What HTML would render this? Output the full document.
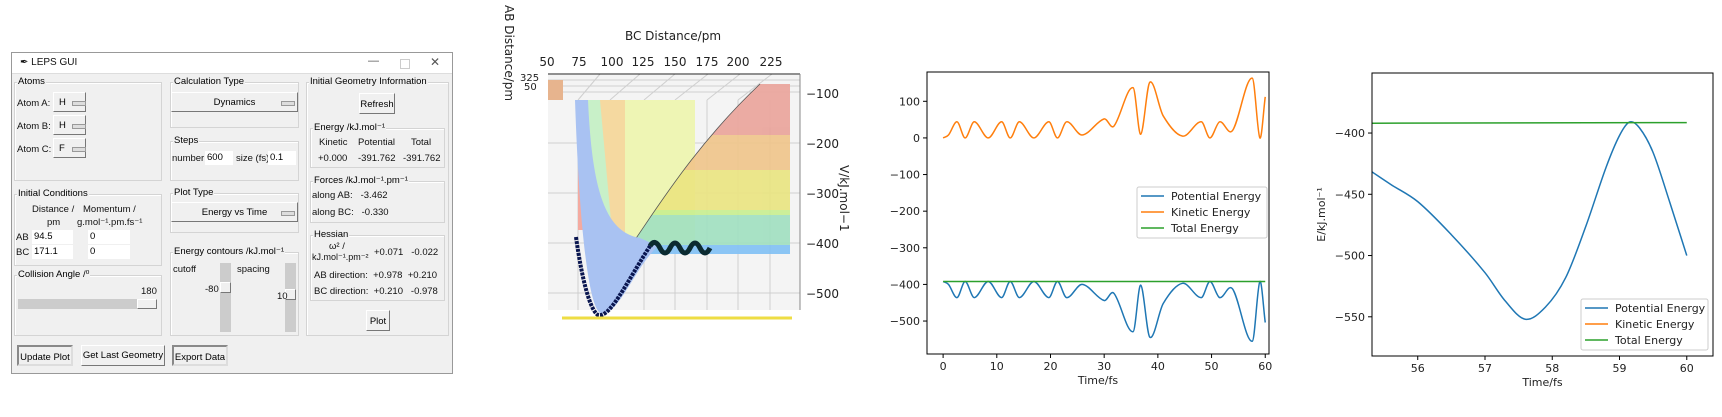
<!DOCTYPE html>
<html><head><meta charset="utf-8"><style>
body{margin:0;width:1722px;height:417px;background:#fff;position:relative;overflow:hidden;font-family:"Liberation Sans","DejaVu Sans",sans-serif}
.a{position:absolute}
.g{font-size:9.5px;color:#111;white-space:nowrap}
.fr{position:absolute;border:1px solid #d4d4d4;box-shadow:inset 1px 1px 0 #fff}
.fl{position:absolute;top:-7px;left:2px;background:#f0f0f0;font-size:9.5px;padding:0 1px}
.btn{position:absolute;background:#f0f0f0;border:1px solid #fff;border-right-color:#777;border-bottom-color:#777;font-size:9.5px;text-align:center;box-sizing:border-box}
.inp{position:absolute;background:#fff;font-size:9.5px;padding-left:2px;box-sizing:border-box;height:14px;line-height:14px}
.dd{position:absolute;width:12px;height:3px;border:1px solid #999;background:#ddd}
</style></head><body>
<div class="a" style="left:11px;top:52px;width:440px;height:320px;border:1px solid #999;background:#f0f0f0">
<div class="a" style="left:0;top:0;width:440px;height:20px;background:#fff;border-bottom:1px solid #ddd">
<div class="a g" style="left:8px;top:4px;font-size:10px">✒ LEPS GUI</div>
<div class="a g" style="left:356px;top:2px;font-size:11px;color:#555">—</div>
<div class="a" style="left:388px;top:6px;width:8px;height:8px;border:1px solid #ccc"></div>
<div class="a g" style="left:418px;top:2px;font-size:12px;color:#555">✕</div>
</div>
</div>
<div class="a" style="left:0;top:0">
<div class="fr" style="left:14px;top:82px;width:146px;height:97px"><span class="fl">Atoms</span>
<span class="a g" style="left:2px;top:15px">Atom A:</span><div class="btn" style="left:38px;top:9px;width:33px;height:20px;text-align:left;padding:4px 5px">H<div class="dd" style="left:18px;top:8px"></div></div>
<span class="a g" style="left:2px;top:38px">Atom B:</span><div class="btn" style="left:38px;top:32px;width:33px;height:20px;text-align:left;padding:4px 5px">H<div class="dd" style="left:18px;top:8px"></div></div>
<span class="a g" style="left:2px;top:61px">Atom C:</span><div class="btn" style="left:38px;top:55px;width:33px;height:20px;text-align:left;padding:4px 5px">F<div class="dd" style="left:18px;top:8px"></div></div>
</div>
<div class="fr" style="left:170px;top:82px;width:127px;height:44px"><span class="fl">Calculation Type</span>
<div class="btn" style="left:0;top:9px;width:127px;height:20px;padding-top:4px">Dynamics<div class="dd" style="left:109px;top:8px"></div></div></div>
<div class="fr" style="left:170px;top:141px;width:127px;height:38px"><span class="fl">Steps</span>
<span class="a g" style="left:1px;top:11px">number</span><div class="inp" style="left:34px;top:9px;width:28px">600</div>
<span class="a g" style="left:65px;top:11px">size (fs)</span><div class="inp" style="left:97px;top:9px;width:28px">0.1</div></div>
<div class="fr" style="left:14px;top:194px;width:146px;height:70px"><span class="fl">Initial Conditions</span>
<span class="a g" style="left:17px;top:9px">Distance /</span><span class="a g" style="left:68px;top:9px">Momentum /</span>
<span class="a g" style="left:32px;top:22px">pm</span><span class="a g" style="left:62px;top:22px">g.mol⁻¹.pm.fs⁻¹</span>
<span class="a g" style="left:1px;top:37px">AB</span><div class="inp" style="left:17px;top:35px;width:41px">94.5</div><div class="inp" style="left:73px;top:35px;width:42px">0</div>
<span class="a g" style="left:1px;top:52px">BC</span><div class="inp" style="left:17px;top:50px;width:41px">171.1</div><div class="inp" style="left:73px;top:50px;width:42px">0</div></div>
<div class="fr" style="left:14px;top:275px;width:146px;height:59px"><span class="fl">Collision Angle /⁰</span>
<span class="a g" style="left:126px;top:10px">180</span>
<div class="a" style="left:3px;top:23px;width:139px;height:10px;background:#ccc"><div class="btn" style="left:119px;top:0;width:20px;height:10px"></div></div></div>
<div class="fr" style="left:170px;top:193px;width:127px;height:38px"><span class="fl">Plot Type</span>
<div class="btn" style="left:0;top:8px;width:127px;height:20px;padding-top:4px">Energy vs Time<div class="dd" style="left:109px;top:8px"></div></div></div>
<div class="fr" style="left:170px;top:252px;width:127px;height:82px"><span class="fl">Energy contours /kJ.mol⁻¹</span>
<span class="a g" style="left:2px;top:11px">cutoff</span><span class="a g" style="left:66px;top:11px">spacing</span>
<div class="a" style="left:49px;top:10px;width:11px;height:69px;background:#ccc"><div class="btn" style="left:0;top:19px;width:11px;height:11px"></div></div><span class="a g" style="left:34px;top:31px">-80</span>
<div class="a" style="left:114px;top:10px;width:11px;height:69px;background:#ccc"><div class="btn" style="left:0;top:26px;width:11px;height:11px"></div></div><span class="a g" style="left:106px;top:38px">10</span></div>
<div class="fr" style="left:306px;top:82px;width:141px;height:252px"><span class="fl">Initial Geometry Information</span>
<div class="btn" style="left:52px;top:10px;width:36px;height:21px;padding-top:5px">Refresh</div>
<div class="fr" style="left:3px;top:45px;width:133px;height:38px"><span class="fl">Energy /kJ.mol⁻¹</span>
<span class="a g" style="left:8px;top:8px">Kinetic</span><span class="a g" style="left:47px;top:8px">Potential</span><span class="a g" style="left:100px;top:8px">Total</span>
<span class="a g" style="left:7px;top:24px">+0.000</span><span class="a g" style="left:47px;top:24px">-391.762</span><span class="a g" style="left:92px;top:24px">-391.762</span></div>
<div class="fr" style="left:3px;top:98px;width:133px;height:40px"><span class="fl">Forces /kJ.mol⁻¹.pm⁻¹</span>
<span class="a g" style="left:1px;top:8px">along AB:&nbsp;&nbsp; -3.462</span><span class="a g" style="left:1px;top:25px">along BC:&nbsp;&nbsp; -0.330</span></div>
<div class="fr" style="left:3px;top:152px;width:133px;height:64px"><span class="fl">Hessian</span>
<span class="a g" style="left:18px;top:5px">ω² /</span><span class="a g" style="left:1px;top:16px;font-size:9px">kJ.mol⁻¹.pm⁻²</span><span class="a g" style="left:63px;top:11px">+0.071&nbsp;&nbsp; -0.022</span>
<span class="a g" style="left:3px;top:34px">AB direction:&nbsp; +0.978&nbsp; +0.210</span>
<span class="a g" style="left:3px;top:50px">BC direction:&nbsp; +0.210&nbsp;&nbsp; -0.978</span></div>
<div class="btn" style="left:59px;top:227px;width:24px;height:21px;padding-top:5px">Plot</div></div>
<div class="btn" style="left:17px;top:345px;width:56px;height:21px;padding-top:5px;border:2px inset #ddd">Update Plot</div>
<div class="btn" style="left:81px;top:345px;width:84px;height:21px;padding-top:4px">Get Last Geometry</div>
<div class="btn" style="left:172px;top:345px;width:56px;height:21px;padding-top:5px;border:2px inset #ddd">Export Data</div>
</div>

<svg class="a" style="left:0;top:0" width="1722" height="417" font-family="DejaVu Sans, sans-serif" font-size="11">
<g>
<rect x="548" y="75" width="252" height="235" fill="#f4f4f4"/>
<g stroke="#cfcfcf" stroke-width="1">
<line x1="578" y1="100" x2="578" y2="310"/><line x1="610" y1="100" x2="610" y2="310"/><line x1="644" y1="100" x2="644" y2="310"/><line x1="675" y1="100" x2="675" y2="310"/><line x1="707" y1="100" x2="707" y2="310"/><line x1="738" y1="100" x2="738" y2="310"/><line x1="770" y1="100" x2="770" y2="310"/>
<line x1="548" y1="143" x2="800" y2="143"/><line x1="548" y1="193" x2="800" y2="193"/><line x1="548" y1="243" x2="800" y2="243"/><line x1="548" y1="293" x2="800" y2="293"/>
<line x1="600" y1="74" x2="578" y2="100"/><line x1="640" y1="74" x2="610" y2="100"/><line x1="675" y1="74" x2="644" y2="100"/><line x1="708" y1="74" x2="675" y2="100"/><line x1="740" y1="74" x2="707" y2="100"/><line x1="772" y1="74" x2="738" y2="100"/>
<line x1="548" y1="80" x2="800" y2="80"/><line x1="548" y1="86" x2="800" y2="86"/><line x1="548" y1="92" x2="800" y2="92"/>
</g>
<line x1="548" y1="74" x2="800" y2="74" stroke="#222"/>
<line x1="800" y1="74" x2="800" y2="310" stroke="#888"/>
<rect x="548" y="80" width="15" height="20" fill="#e7b48e"/>
<rect x="578" y="100" width="22" height="130" fill="#f4aaa0"/>
<rect x="600" y="100" width="25" height="140" fill="#f5d9a0"/>
<rect x="625" y="100" width="70" height="140" fill="#eef5b4"/>
<clipPath id="cr"><path d="M625,254 C650,220 690,150 760,84 L790,84 L790,254 Z"/></clipPath>
<g clip-path="url(#cr)" opacity="0.9">
<rect x="600" y="80" width="190" height="55" fill="#eaa39a"/>
<rect x="600" y="135" width="190" height="35" fill="#f0c58a"/>
<rect x="600" y="170" width="190" height="40" fill="#eae580"/>
<rect x="600" y="210" width="190" height="5" fill="#c8ef90"/>
<rect x="600" y="215" width="190" height="30" fill="#a0e0c0"/>
<rect x="600" y="245" width="190" height="9" fill="#80c0f5"/>
</g>
<path d="M625,254 C650,220 690,150 760,84" fill="none" stroke="#555" stroke-width="0.8"/>
<path d="M586,100 C590,190 600,225 612,232 L600,100 Z" fill="#c8f0c8"/>
<path d="M575,100 C579,220 588,305 600,313 C618,318 634,268 658,246 L640,238 C605,232 592,190 588,100 Z" fill="#a9c2f2"/>
<path d="M576,237 C582,280 590,310 598,315 C610,318 625,285 650,246" fill="none" stroke="#0a1650" stroke-width="4" stroke-dasharray="3,1"/>
<path d="M650,246 q5,-8 10,2 q5,10 10,0 q5,-10 10,0 q5,10 10,0 q5,-10 10,0 q5,10 10,0" fill="none" stroke="#0b2a30" stroke-width="5"/>
<line x1="562" y1="318" x2="792" y2="318" stroke="#eedd44" stroke-width="3"/>
<g font-size="12" fill="#222">
<text x="547" y="66" text-anchor="middle">50</text><text x="579" y="66" text-anchor="middle">75</text><text x="612" y="66" text-anchor="middle">100</text><text x="643" y="66" text-anchor="middle">125</text><text x="675" y="66" text-anchor="middle">150</text><text x="707" y="66" text-anchor="middle">175</text><text x="738" y="66" text-anchor="middle">200</text><text x="771" y="66" text-anchor="middle">225</text>
</g>
<text x="673" y="40" text-anchor="middle" font-size="12" fill="#222">BC Distance/pm</text>
<text transform="translate(505,5) rotate(90)" font-size="12" fill="#222">AB Distance/pm</text>
<text x="524" y="90" font-size="10" fill="#222">50</text><text x="520" y="81" font-size="10" fill="#222">325</text>
<g font-size="12" fill="#222">
<text x="806" y="98">−100</text><text x="806" y="148">−200</text><text x="806" y="198">−300</text><text x="806" y="248">−400</text><text x="806" y="298">−500</text>
</g>
<text transform="translate(840,165) rotate(90)" font-size="12" fill="#222">V/kJ.mol−1</text>
</g>

<g id="c1"></g>
<g id="c2"></g>
</svg>
<script>
const c1Time=[0,1,2.6,4.1,5.8,8.4,10.9,12.5,14.2,16.9,19.7,21.3,23,25.9,30,31.8,35.4,36.8,38.5,41,44.6,48.1,49.7,51.5,53.9,57.6,59,60];
const c1Kinetic=[0,8,44,0,44,0,44,0,44,0,44,0,44,8,52,32,137,10,152,60,5,44,0,44,20,163,0,112];
const c1Potential=[-392,-400,-436,-392,-436,-392,-436,-392,-436,-392,-436,-392,-436,-400,-444,-424,-529,-402,-544,-452,-397,-436,-392,-436,-412,-555,-392,-504];
const c1Total=[-392,-392];
const c1TotalTime=[0,60];
const c1XTicks=[0,10,20,30,40,50,60];
const c1YTicks=[-500,-400,-300,-200,-100,0,100];
const c2Time=[55.3,55.6,56,56.5,57,57.3,57.6,57.9,58.2,58.5,58.8,59,59.15,59.3,59.5,59.75,60];
const c2Potential=[-431,-442,-456,-483,-514,-537,-552,-542,-518,-476,-428,-402,-391,-396,-416,-457,-500];
const c2Kinetic=[39,50,64,91,122,145,160,150,126,84,36,10,0,4,24,65,108];
const c2Total=[-392,-391.5];
const c2TotalTime=[55.3,60];
const c2XTicks=[56,57,58,59,60];
const c2YTicks=[-550,-500,-450,-400];
const NS='http://www.w3.org/2000/svg';
function mk(p,t,a){const e=document.createElementNS(NS,t);for(const k in a)e.setAttribute(k,a[k]);p.appendChild(e);return e;}
function smooth(pts){
 const n=pts.length,m=[];
 for(let i=0;i<n;i++){const a=pts[Math.max(0,i-1)],b=pts[Math.min(n-1,i+1)];m.push((b[1]-a[1])/(b[0]-a[0]));}
 let d='M'+pts[0][0]+','+pts[0][1];
 for(let i=0;i<n-1;i++){const p1=pts[i],p2=pts[i+1],dx=(p2[0]-p1[0])/3;
  d+=` C${p1[0]+dx},${p1[1]+m[i]*dx} ${p2[0]-dx},${p2[1]-m[i+1]*dx} ${p2[0]},${p2[1]}`;}
 return d;}
function chart(g,box,xd,yd,series,xt,yt,legend,ylabel,cid){
 const X=v=>box.x+(v-xd[0])/(xd[1]-xd[0])*box.w, Y=v=>box.y+box.h-(v-yd[0])/(yd[1]-yd[0])*box.h;
 const cp=mk(g,'clipPath',{id:cid});mk(cp,'rect',{x:box.x,y:box.y,width:box.w,height:box.h});
 const lg=mk(g,'g',{'clip-path':'url(#'+cid+')'});
 series.forEach(s=>{const p=mk(lg,'path',{d:smooth(s.t.map((t,i)=>[X(t),Y(s.v[i])])),fill:'none',stroke:s.c,'stroke-width':1.5});
  
  });
 mk(g,'rect',{x:box.x,y:box.y,width:box.w,height:box.h,fill:'none',stroke:'#000','stroke-width':1});
 xt.forEach(v=>{mk(g,'line',{x1:X(v),x2:X(v),y1:box.y+box.h,y2:box.y+box.h+4,stroke:'#000'});const t=mk(g,'text',{x:X(v),y:box.y+box.h+16,'text-anchor':'middle',fill:'#222'});t.textContent=v;
  
  });
 yt.forEach(v=>{mk(g,'line',{x1:box.x-4,x2:box.x,y1:Y(v),y2:Y(v),stroke:'#000'});const t=mk(g,'text',{x:box.x-7,y:Y(v)+4,'text-anchor':'end',fill:'#222'});t.textContent=String(v).replace('-','−');
  
  });
 const xl=mk(g,'text',{x:box.x+box.w/2,y:box.y+box.h+30,'text-anchor':'middle',fill:'#222'});xl.textContent='Time/fs';
 
 
 if(ylabel){const yl=mk(g,'text',{transform:`translate(${box.x-47},${box.y+box.h/2}) rotate(-90)`,'text-anchor':'middle',fill:'#222'});yl.textContent=ylabel;
  
  }
 const L=mk(g,'g',{});
 
 
 mk(L,'rect',{x:legend.x,y:legend.y,width:legend.w,height:51,fill:'#fff','fill-opacity':0.8,stroke:'#ccc',rx:2});
 [['Potential Energy','#1f77b4'],['Kinetic Energy','#ff7f0e'],['Total Energy','#2ca02c']].forEach((e,i)=>{const yy=legend.y+9+i*16;mk(L,'line',{x1:legend.x+4,x2:legend.x+27,y1:yy,y2:yy,stroke:e[1],'stroke-width':1.5});const t=mk(L,'text',{x:legend.x+34,y:yy+4,fill:'#222'});t.textContent=e[0];
  
  });
}
chart(document.getElementById('c1'),{x:927,y:72,w:342,h:282},[-3,60.7],[-590,180],
 [{t:c1Time,v:c1Potential,c:'#1f77b4',n:'potential-line'},{t:c1Time,v:c1Kinetic,c:'#ff7f0e',n:'kinetic-line'},{t:c1TotalTime,v:c1Total,c:'#2ca02c',n:'total-line'}],
 c1XTicks,c1YTicks,{x:1137,y:187,w:130},null,'k1');
chart(document.getElementById('c2'),{x:1372,y:73,w:341,h:283},[55.32,60.39],[-582,-351],
 [{t:c2Time,v:c2Potential,c:'#1f77b4',n:'potential-line'},{t:c2Time,v:c2Kinetic,c:'#ff7f0e',n:'kinetic-line'},{t:c2TotalTime,v:c2Total,c:'#2ca02c',n:'total-line'}],
 c2XTicks,c2YTicks,{x:1581,y:299,w:127},'E/kJ.mol⁻¹','k2');
</script>
</body></html>
